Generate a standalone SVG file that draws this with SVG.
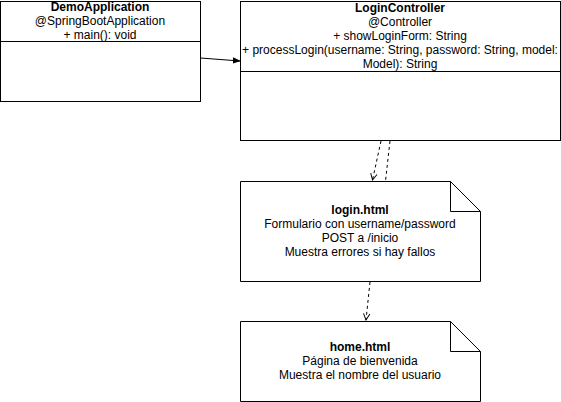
<svg xmlns="http://www.w3.org/2000/svg" width="561" height="402" viewBox="0 0 561 402">
<defs>
<style>
.box{fill:#fff;stroke:#000;stroke-width:1}
.t{font-family:"Liberation Sans",Arial,sans-serif;font-size:12px;fill:#000;text-anchor:middle}
.b{font-weight:bold}
.dash{fill:none;stroke:#000;stroke-width:1;stroke-dasharray:3 3}
.solid{fill:none;stroke:#000;stroke-width:1}
</style>
<marker id="filled" viewBox="0 0 10 10" refX="9" refY="5" markerWidth="8" markerHeight="8" orient="auto" markerUnits="userSpaceOnUse">
<path d="M0,1 L10,5 L0,9 Z" fill="#000"/>
</marker>
<marker id="open" viewBox="0 0 10 10" refX="9" refY="5" markerWidth="8" markerHeight="8" orient="auto" markerUnits="userSpaceOnUse">
<path d="M1,1 L9,5 L1,9" fill="none" stroke="#000" stroke-width="1.2"/>
</marker>
</defs>
<rect width="561" height="402" fill="#fff"/>
<g id="DemoApplication">
<rect class="box" x="0.5" y="1.5" width="200" height="100"/>
<line class="solid" x1="0.5" y1="41.5" x2="200.5" y2="41.5"/>
<text class="t b" x="100" y="11">DemoApplication</text>
<text class="t" x="100" y="25">@SpringBootApplication</text>
<text class="t" x="100" y="39">+ main(): void</text>
</g>
<g id="LoginController">
<rect class="box" x="240.5" y="1.5" width="320" height="139"/>
<line class="solid" x1="240.5" y1="71.5" x2="560.5" y2="71.5"/>
<text class="t b" x="400" y="12">LoginController</text>
<text class="t" x="400" y="26">@Controller</text>
<text class="t" x="400" y="40">+ showLoginForm: String</text>
<text class="t" x="400" y="54">+ processLogin(username: String, password: String, model:</text>
<text class="t" x="400" y="68">Model): String</text>
</g>
<g id="login">
<path class="box" d="M240.5,181.5 H450.5 L480.5,211.5 V281.5 H240.5 Z"/>
<path class="solid" d="M450.5,181.5 V211.5 H480.5"/>
<text class="t b" x="360" y="214">login.html</text>
<text class="t" x="360" y="228">Formulario con username/password</text>
<text class="t" x="360" y="242">POST a /inicio</text>
<text class="t" x="360" y="256">Muestra errores si hay fallos</text>
</g>
<g id="home">
<path class="box" d="M240.5,321.5 H450.5 L480.5,351.5 V401.5 H240.5 Z"/>
<path class="solid" d="M450.5,321.5 V351.5 H480.5"/>
<text class="t b" x="360" y="351">home.html</text>
<text class="t" x="360" y="365">Página de bienvenida</text>
<text class="t" x="360" y="379">Muestra el nombre del usuario</text>
</g>
<g id="connectors">
<line class="solid" x1="200.5" y1="58" x2="240" y2="61" marker-end="url(#filled)"/>
<line class="dash" x1="381" y1="141" x2="372.5" y2="180" marker-end="url(#open)"/>
<line class="dash" x1="390" y1="141" x2="385.5" y2="181"/>
<line class="dash" x1="370" y1="282" x2="366" y2="320" marker-end="url(#open)"/>
</g>
</svg>
